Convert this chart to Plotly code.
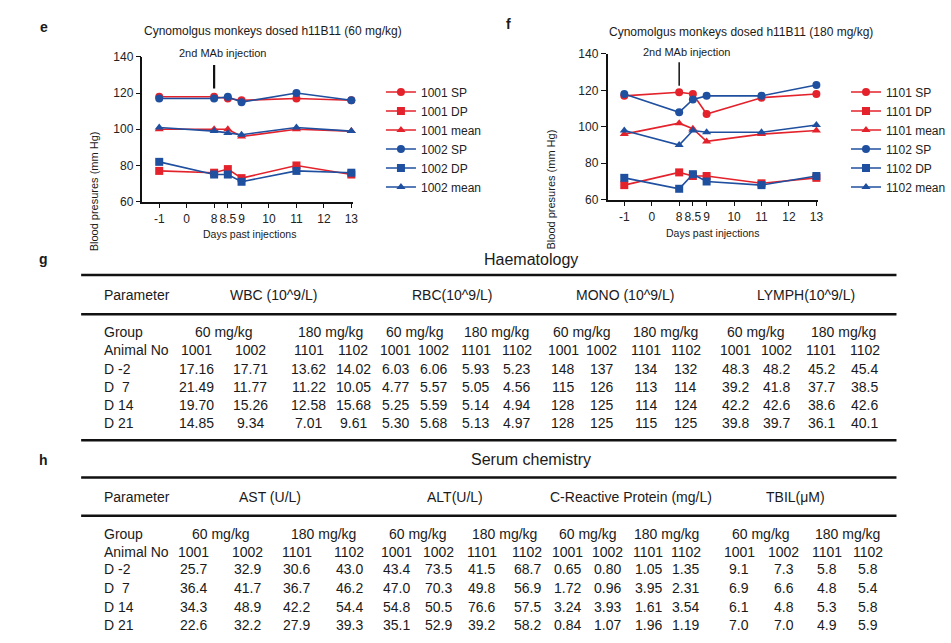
import numpy as np
import plotly.graph_objects as go

W, H = 951, 643
FONT = "Liberation Sans, Arial, Helvetica, sans-serif"
RED = "#e3222b"
BLUE = "#1f4f9f"

# ---------------- Blood pressure data ----------------
days = [-1, 8, 8.5, 9, 11, 13]
tick_days = [-1, 0, 8, 8.5, 9, 10, 11, 12, 13]
tick_labels = ["-1", "0", "8", "8.5", "9", "10", "11", "12", "13"]

sp_1001 = [118, 118, 117, 116, 117, 116]
dp_1001 = [77, 76, 78, 73, 80, 75]
mean_1001 = [100, 100, 100, 96, 100, 99]
sp_1002 = [117, 117, 118, 115, 120, 116]
dp_1002 = [82, 75, 75, 71, 77, 76]
mean_1002 = [101, 99, 98, 97, 101, 99]

sp_1101 = [117, 119, 118, 107, 116, 118]
dp_1101 = [68, 75, 73, 73, 69, 72]
mean_1101 = [96, 102, 99, 92, 96, 98]
sp_1102 = [118, 108, 115, 117, 117, 123]
dp_1102 = [72, 66, 74, 70, 68, 73]
mean_1102 = [98, 90, 98, 97, 97, 101]

# ---------------- Table data ----------------
animals = ["1001", "1002", "1101", "1102"]
groups = ["60 mg/kg", "180 mg/kg"]
days_rows = ["D -2", "D  7", "D 14", "D 21"]

haem_params = ["WBC (10^9/L)", "RBC(10^9/L)", "MONO (10^9/L)", "LYMPH(10^9/L)"]
wbc = [["17.16", "17.71", "13.62", "14.02"], ["21.49", "11.77", "11.22", "10.05"],
       ["19.70", "15.26", "12.58", "15.68"], ["14.85", "9.34", "7.01", "9.61"]]
rbc = [["6.03", "6.06", "5.93", "5.23"], ["4.77", "5.57", "5.05", "4.56"],
       ["5.25", "5.59", "5.14", "4.94"], ["5.30", "5.68", "5.13", "4.97"]]
mono = [["148", "137", "134", "132"], ["115", "126", "113", "114"],
        ["128", "125", "114", "124"], ["128", "125", "115", "125"]]
lymph = [["48.3", "48.2", "45.2", "45.4"], ["39.2", "41.8", "37.7", "38.5"],
         ["42.2", "42.6", "38.6", "42.6"], ["39.8", "39.7", "36.1", "40.1"]]

serum_params = ["AST (U/L)", "ALT(U/L)", "C-Reactive Protein (mg/L)", "TBIL(\u03bcM)"]
ast = [["25.7", "32.9", "30.6", "43.0"], ["36.4", "41.7", "36.7", "46.2"],
       ["34.3", "48.9", "42.2", "54.4"], ["22.6", "32.2", "27.9", "39.3"]]
alt = [["43.4", "73.5", "41.5", "68.7"], ["47.0", "70.3", "49.8", "56.9"],
       ["54.8", "50.5", "76.6", "57.5"], ["35.1", "52.9", "39.2", "58.2"]]
crp = [["0.65", "0.80", "1.05", "1.35"], ["1.72", "0.96", "3.95", "2.31"],
       ["3.24", "3.93", "1.61", "3.54"], ["0.84", "1.07", "1.96", "1.19"]]
tbil = [["9.1", "7.3", "5.8", "5.8"], ["6.9", "6.6", "4.8", "5.4"],
        ["6.1", "4.8", "5.3", "5.8"], ["7.0", "7.0", "4.9", "5.9"]]

# ---------------- helpers ----------------
def px(x, y):
    return x / W, 1 - y / H

# broken-axis scale: -1,0 | 8 .. 13 evenly spaced
knots_day = [-1, 0, 8, 9, 10, 11, 12, 13]
knots_pos = [0, 1, 2, 3, 4, 5, 6, 7]
def xpos(d):
    return list(np.interp(d, knots_day, knots_pos))

fig = go.Figure()

def add_series(vals, name, color, symbol, xa, ya, legend):
    fig.add_trace(go.Scatter(
        x=xpos(days), y=vals, name=name, mode="lines+markers",
        line=dict(color=color, width=1.6),
        marker=dict(color=color, symbol=symbol, size=8),
        xaxis=xa, yaxis=ya, legend=legend, cliponaxis=False))

left = [(sp_1001, "1001 SP", RED, "circle"), (dp_1001, "1001 DP", RED, "square"),
        (mean_1001, "1001 mean", RED, "triangle-up"), (sp_1002, "1002 SP", BLUE, "circle"),
        (dp_1002, "1002 DP", BLUE, "square"), (mean_1002, "1002 mean", BLUE, "triangle-up")]
right = [(sp_1101, "1101 SP", RED, "circle"), (dp_1101, "1101 DP", RED, "square"),
         (mean_1101, "1101 mean", RED, "triangle-up"), (sp_1102, "1102 SP", BLUE, "circle"),
         (dp_1102, "1102 DP", BLUE, "square"), (mean_1102, "1102 mean", BLUE, "triangle-up")]
for v, n, c, s in left:
    add_series(v, n, c, s, "x", "y", "legend")
for v, n, c, s in right:
    add_series(v, n, c, s, "x2", "y2", "legend2")

axis_common = dict(showgrid=False, zeroline=False, showline=True, linecolor="#111",
                   linewidth=1.5, ticks="outside", ticklen=5, tickwidth=1.3,
                   tickcolor="#111", tickfont=dict(family=FONT, size=12, color="#222"))
xa = dict(axis_common, range=[-0.61, 7.07], tickmode="array", tickvals=xpos(tick_days),
          ticktext=tick_labels, tickangle=0)
ya = dict(axis_common, range=[60, 140], tickmode="array", tickvals=[60, 80, 100, 120, 140])

fig.update_layout(
    xaxis=dict(xa, domain=[144 / W, 357 / W], anchor="y"),
    yaxis=dict(ya, domain=[1 - 199 / H, 1 - 51 / H], anchor="x"),
    xaxis2=dict(xa, domain=[614 / W, 827 / W], anchor="y2"),
    yaxis2=dict(ya, domain=[1 - 197 / H, 1 - 48 / H], anchor="x2"),
)

legend_common = dict(xanchor="left", yanchor="top", bgcolor="rgba(0,0,0,0)",
                     font=dict(family=FONT, size=12, color="#222"), tracegroupgap=0)
lx, ly = px(385, 72)
rx, ry = px(855, 72)
fig.update_layout(legend=dict(legend_common, x=lx, y=ly),
                  legend2=dict(legend_common, x=rx, y=ry))

annotations = []
shapes = []

def text(x, y, s, size=14, bold=False, xanchor="center"):
    X, Y = px(x, y)
    annotations.append(dict(x=X, y=Y, xref="paper", yref="paper", text=f"<b>{s}</b>" if bold else s,
                            showarrow=False, xanchor=xanchor, yanchor="middle",
                            font=dict(family=FONT, size=size, color="#1a1a1a")))

def hline(x0, x1, y, w=2.5):
    X0, Y = px(x0, y)
    X1, _ = px(x1, y)
    shapes.append(dict(type="line", xref="paper", yref="paper", x0=X0, x1=X1, y0=Y, y1=Y,
                       line=dict(color="#111", width=w)))

# chart titles and axis titles
text(276, 25, "Cynomolgus monkeys dosed h11B11 (60 mg/kg)", size=12)
text(749, 26, "Cynomolgus monkeys dosed h11B11 (180 mg/kg)", size=12)
text(252, 232, "Days past injections", size=10.5)
text(720, 231, "Days past injections", size=10.5)
for xx, yy in [(87, 125), (557, 123)]:
    X, Y = px(xx, yy)
    annotations.append(dict(x=X, y=Y, xref="paper", yref="paper", text="Blood presures (mm Hg)",
                            showarrow=False, textangle=-90, font=dict(family=FONT, size=11, color="#1a1a1a")))
text(225, 47, "2nd MAb injection", size=11)
text(694, 46, "2nd MAb injection", size=11)
# injection markers (day 8)
for xref, yref, y0, y1, w in [("x", "y", 122.5, 135.5, 2.2), ("x2", "y2", 122.5, 135.5, 1.5)]:
    shapes.append(dict(type="line", xref=xref, yref=yref, x0=xpos([8])[0], x1=xpos([8])[0],
                       y0=y0, y1=y1, line=dict(color="#111", width=w)))

# panel letters
for s, x, y in [("e", 44, 20), ("f", 514, 17), ("g", 44, 258), ("h", 44, 463)]:
    text(x, y, s, size=14, bold=True)

# ---------------- tables ----------------
def draw_table(title, title_y, top_line, params, blocks, col_x, head_x, y_param, y_line2,
               y_group, y_animal, y_rows, draw_top=True):
    text(537, title_y, title, size=16)
    if draw_top:
        hline(82, 906, top_line)
    hline(82, 906, y_line2)
    text(103, y_param, "Parameter", xanchor="left")
    for p, hx in zip(params, head_x):
        text(hx, y_param, p)
    text(103, y_group, "Group", xanchor="left")
    text(103, y_animal, "Animal No", xanchor="left")
    for b in range(4):
        cx = col_x[4 * b:4 * b + 4]
        text((cx[0] + cx[1]) / 2, y_group, groups[0])
        text((cx[2] + cx[3]) / 2, y_group, groups[1])
        for a, x in zip(animals, cx):
            text(x, y_animal, a)
    for r, (lab, yy) in enumerate(zip(days_rows, y_rows)):
        text(103, yy, lab.replace("  ", "&nbsp;&nbsp;"), xanchor="left")
        for b, blk in enumerate(blocks):
            for c in range(4):
                text(col_x[4 * b + c], yy, blk[r][c])

haem_cols = [199, 253, 312, 357, 400, 438, 481, 522, 569, 608, 653, 693, 743, 785, 830, 874]
serum_cols = [196, 250, 300, 353, 401, 443, 487, 533, 574, 614, 655, 693, 747, 792, 836, 877]

draw_table("Haematology", 258, 274, haem_params, [wbc, rbc, mono, lymph], haem_cols,
           [276, 457, 632, 815], 294, 314, 332, 351, [370, 388, 407, 425])
hline(82, 906, 443)
draw_table("Serum chemistry", 463, 481, serum_params, [ast, alt, crp, tbil], serum_cols,
           [273, 460, 638, 804], 501, 520, 539, 557, [575, 594, 613, 632])

fig.update_layout(
    width=W, height=H, margin=dict(l=0, r=0, t=0, b=0),
    paper_bgcolor="white", plot_bgcolor="white",
    annotations=annotations, shapes=shapes,
    font=dict(family=FONT, color="#222"),
)

fig.write_html("out.html", config={"displayModeBar": False},
               post_script="document.body.style.margin='0';document.body.style.padding='0';")
